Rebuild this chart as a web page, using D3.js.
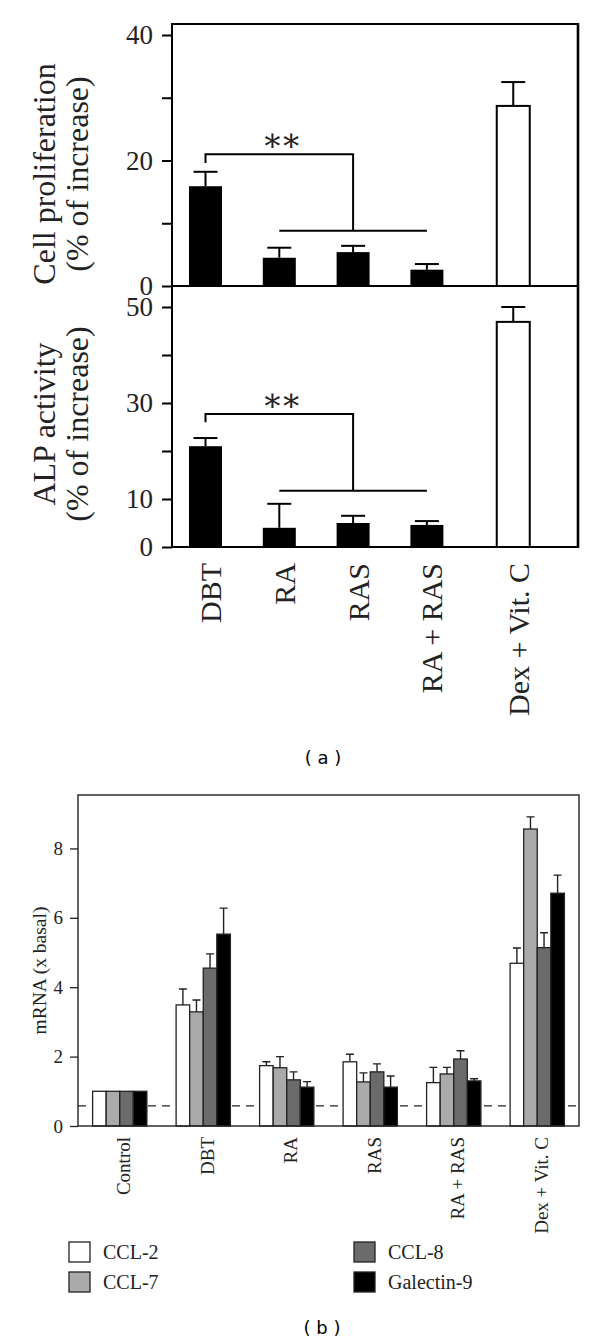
<!DOCTYPE html>
<html>
<head>
<meta charset="utf-8">
<script src="https://cdn.jsdelivr.net/npm/d3@7.9.0/dist/d3.min.js"></script>
<style>
  body { margin: 0; background: #fff; }
  svg { display: block; }
</style>
</head>
<body>
<svg></svg>
<script>
const width = 600;
const height = 1344;
const serif = "'Liberation Serif', 'Times New Roman', serif";

// ---- panel (a) data
const treatA = ["DBT", "RA", "RAS", "RA + RAS", "Dex + Vit. C"];
const prolifMean = [15.9, 4.5, 5.4, 2.6, 28.7];
const prolifSD = [2.3, 1.6, 1.0, 0.9, 3.8];
const alpMean = [21.0, 4.0, 5.0, 4.6, 46.9];
const alpSD = [1.7, 5.0, 1.5, 0.8, 3.1];
const prolifTicks = [0, 10, 20, 30, 40];
const prolifLabels = [0, 20, 40];
const alpTicks = [0, 10, 20, 30, 40, 50];
const alpLabels = [0, 10, 30, 50];
// significance brackets: [upper line, DBT tick end, lower line]
const prolifBracket = [21.0, 19.6, 8.8];
const alpBracket = [27.7, 26.0, 11.7];

// ---- panel (b) data
const treatB = ["Control", "DBT", "RA", "RAS", "RA + RAS", "Dex + Vit. C"];
const genes = ["CCL-2", "CCL-7", "CCL-8", "Galectin-9"];
const geneColors = ["#ffffff", "#aaaaaa", "#6b6b6b", "#000000"];
const ccl2 = [1.0, 3.49, 1.74, 1.85, 1.25, 4.69];
const ccl2SD = [0, 0.46, 0.11, 0.22, 0.44, 0.44];
const ccl7 = [1.0, 3.29, 1.68, 1.27, 1.50, 8.56];
const ccl7SD = [0, 0.34, 0.32, 0.26, 0.19, 0.35];
const ccl8 = [1.0, 4.55, 1.33, 1.56, 1.93, 5.14];
const ccl8SD = [0, 0.41, 0.23, 0.23, 0.24, 0.43];
const gal9 = [1.0, 5.53, 1.12, 1.12, 1.30, 6.71];
const gal9SD = [0, 0.75, 0.16, 0.32, 0.06, 0.52];
const basalLine = 0.58;
const mrnaTicks = [0, 2, 4, 6, 8];

const svg = d3.select("svg")
  .attr("width", width)
  .attr("height", height)
  .style("background", "#fff");

// ================= panel (a) =================
const aLeft = 172, aRight = 578, aTop = 24, aMid = 286, aBot = 547;

// Dex + Vit. C sits a little apart from the others
const xStep = d3.scaleLinear().domain([0, 1]).range([205.5, 279.3]);
const xA = i => xStep(i === 4 ? 4.17 : i);
const barW = 33;

function panelA(g, cfg) {
  const y = d3.scaleLinear().domain(cfg.domain).range(cfg.range);

  // axis
  const axis = d3.axisLeft(y)
    .tickValues(cfg.ticks)
    .tickSize(10)
    .tickPadding(9)
    .tickFormat(d => cfg.labels.includes(d) ? d : "");
  const ax = g.append("g")
    .attr("transform", `translate(${aLeft},0)`)
    .call(axis);
  ax.select(".domain").remove();
  ax.selectAll(".tick line").attr("stroke", "#000").attr("stroke-width", 2);
  ax.selectAll(".tick text")
    .attr("fill", "#222")
    .style("font-family", serif)
    .style("font-size", "27px");

  // error bars
  const eb = g.append("g").attr("stroke", "#000").attr("stroke-width", 2);
  eb.selectAll("line.v")
    .data(cfg.mean)
    .join("line")
    .attr("class", "v")
    .attr("x1", (d, i) => xA(i)).attr("x2", (d, i) => xA(i))
    .attr("y1", d => y(d))
    .attr("y2", (d, i) => y(d + cfg.sd[i]));
  eb.selectAll("line.c")
    .data(cfg.mean)
    .join("line")
    .attr("class", "c")
    .attr("x1", (d, i) => xA(i) - 12).attr("x2", (d, i) => xA(i) + 12)
    .attr("y1", (d, i) => y(d + cfg.sd[i]))
    .attr("y2", (d, i) => y(d + cfg.sd[i]));

  // bars
  g.append("g")
    .selectAll("rect")
    .data(cfg.mean)
    .join("rect")
    .attr("x", (d, i) => xA(i) - barW / 2)
    .attr("width", barW)
    .attr("y", d => y(d))
    .attr("height", d => y(0) - y(d))
    .attr("fill", (d, i) => i === 4 ? "#fff" : "#000")
    .attr("stroke", "#000")
    .attr("stroke-width", (d, i) => i === 4 ? 2 : 0);

  // bracket
  const [hi, hiTick, lo] = cfg.bracket;
  const br = g.append("g").attr("stroke", "#000").attr("stroke-width", 2).attr("fill", "none");
  br.append("path")
    .attr("d", `M${xA(0)},${y(hiTick)}V${y(hi)}H${xA(2)}V${y(lo)}`);
  br.append("line")
    .attr("x1", xA(1)).attr("x2", xA(3))
    .attr("y1", y(lo)).attr("y2", y(lo));
  g.append("text")
    .attr("x", (xA(0) + xA(2)) / 2 + 1)
    .attr("y", y(hi) - 3)
    .attr("text-anchor", "middle")
    .attr("letter-spacing", "-3px")
    .style("font-family", "'DejaVu Serif', serif")
    .style("font-size", "32px")
    .attr("fill", "#222")
    .text("∗∗");

  // y title, two lines
  cfg.title.forEach((t, k) => {
    g.append("text")
      .attr("transform", `translate(${[55, 88][k]},${cfg.titleY}) rotate(-90)`)
      .attr("text-anchor", "middle")
      .style("font-family", serif)
      .style("font-size", "32px")
      .attr("fill", "#222")
      .text(t);
  });
}

const gA = svg.append("g");
panelA(gA, {
  domain: [0, 40], range: [aMid, 35],
  ticks: prolifTicks, labels: prolifLabels,
  mean: prolifMean, sd: prolifSD, bracket: prolifBracket,
  title: ["Cell proliferation", "(% of increase)"], titleY: 174
});
panelA(gA, {
  domain: [0, 50], range: [aBot, 307],
  ticks: alpTicks, labels: alpLabels,
  mean: alpMean, sd: alpSD, bracket: alpBracket,
  title: ["ALP activity", "(% of increase)"], titleY: 424
});

// frames of (a)
const fr = gA.append("g").attr("stroke", "#000").attr("fill", "none");
fr.append("path").attr("stroke-width", 2)
  .attr("d", `M${aLeft},${aBot}V${aTop}H${aRight}`);
fr.append("line").attr("stroke-width", 2)
  .attr("x1", aLeft).attr("x2", aRight).attr("y1", aMid).attr("y2", aMid);
fr.append("line").attr("stroke-width", 2)
  .attr("x1", aLeft - 1).attr("x2", aRight + 1).attr("y1", aBot).attr("y2", aBot);
fr.append("line").attr("stroke-width", 2.6)
  .attr("x1", aRight).attr("x2", aRight).attr("y1", aTop - 1).attr("y2", aBot + 1);

// x labels of (a)
gA.append("g")
  .selectAll("text")
  .data(treatA)
  .join("text")
  .attr("transform", (d, i) => `translate(${xA(i) + 5},563) rotate(-90)`)
  .attr("text-anchor", "end")
  .attr("dy", "0.35em")
  .style("font-family", serif)
  .style("font-size", "30px")
  .attr("fill", "#222")
  .text(d => d);

svg.append("text")
  .attr("x", 323).attr("y", 764)
  .attr("text-anchor", "middle")
  .style("font-family", "'DejaVu Sans', sans-serif")
  .style("font-size", "18px")
  .attr("fill", "#000")
  .text("( a )");

// ================= panel (b) =================
const bLeft = 78, bRight = 579, bTop = 795, bBot = 1126;
const seriesB = [
  { gene: genes[0], mean: ccl2, sd: ccl2SD },
  { gene: genes[1], mean: ccl7, sd: ccl7SD },
  { gene: genes[2], mean: ccl8, sd: ccl8SD },
  { gene: genes[3], mean: gal9, sd: gal9SD }
];

const xB = d3.scaleBand()
  .domain(treatB)
  .range([bLeft, bRight])
  .paddingInner(0.35)
  .paddingOuter(0.175);
const xG = d3.scaleBand().domain(genes).range([0, xB.bandwidth()]);
const yB = d3.scaleLinear().domain([0, 9.54]).range([bBot, bTop]);
const color = d3.scaleOrdinal(genes, geneColors);

const gB = svg.append("g");

const axB = gB.append("g")
  .attr("transform", `translate(${bLeft},0)`)
  .call(d3.axisLeft(yB).tickValues(mrnaTicks).tickSize(8).tickPadding(7));
axB.select(".domain").remove();
axB.selectAll(".tick line").attr("stroke", "#222").attr("stroke-width", 1.3);
axB.selectAll(".tick text")
  .attr("fill", "#222")
  .style("font-family", serif)
  .style("font-size", "19px");

gB.append("text")
  .attr("transform", `translate(39,${(bTop + bBot) / 2 + 10}) rotate(-90)`)
  .attr("text-anchor", "middle")
  .attr("dy", "0.35em")
  .style("font-family", serif)
  .style("font-size", "19.5px")
  .attr("fill", "#222")
  .text("mRNA (x basal)");

// dashed basal line, behind bars
gB.append("line")
  .attr("x1", bLeft).attr("x2", bRight)
  .attr("y1", yB(basalLine)).attr("y2", yB(basalLine))
  .attr("stroke", "#222")
  .attr("stroke-width", 1.4)
  .attr("stroke-dasharray", "8,6");

const flat = [];
seriesB.forEach(s => s.mean.forEach((v, i) =>
  flat.push({ gene: s.gene, treat: treatB[i], value: v, sd: s.sd[i] })));

const ebB = gB.append("g").attr("stroke", "#222").attr("stroke-width", 1.4);
ebB.selectAll("path")
  .data(flat.filter(d => d.sd > 0))
  .join("path")
  .attr("d", d => {
    const cx = xB(d.treat) + xG(d.gene) + xG.bandwidth() / 2;
    const top = yB(d.value + d.sd);
    return `M${cx},${yB(d.value)}V${top}M${cx - 4},${top}H${cx + 4}`;
  })
  .attr("fill", "none");

gB.append("g")
  .selectAll("rect")
  .data(flat)
  .join("rect")
  .attr("x", d => xB(d.treat) + xG(d.gene))
  .attr("width", xG.bandwidth())
  .attr("y", d => yB(d.value))
  .attr("height", d => yB(0) - yB(d.value))
  .attr("fill", d => color(d.gene))
  .attr("stroke", "#222")
  .attr("stroke-width", 1.3);

gB.append("rect")
  .attr("x", bLeft).attr("y", bTop)
  .attr("width", bRight - bLeft).attr("height", bBot - bTop)
  .attr("fill", "none")
  .attr("stroke", "#222")
  .attr("stroke-width", 1.4);

gB.append("g")
  .selectAll("text")
  .data(treatB)
  .join("text")
  .attr("transform", d => `translate(${xB(d) + xB.bandwidth() / 2 + 3},1137) rotate(-90)`)
  .attr("text-anchor", "end")
  .attr("dy", "0.4em")
  .style("font-family", serif)
  .style("font-size", "19px")
  .attr("fill", "#222")
  .text(d => d);

// legend
const legend = gB.append("g")
  .selectAll("g")
  .data(genes)
  .join("g")
  .attr("transform", (d, i) => `translate(${i < 2 ? 69 : 354},${1242 + (i % 2) * 30})`);
legend.append("rect")
  .attr("width", 21).attr("height", 20)
  .attr("fill", d => color(d))
  .attr("stroke", "#222")
  .attr("stroke-width", 1.3);
legend.append("text")
  .attr("x", 34).attr("y", 10)
  .attr("dy", "0.35em")
  .style("font-family", serif)
  .style("font-size", "20px")
  .attr("fill", "#222")
  .text(d => d);

svg.append("text")
  .attr("x", 322).attr("y", 1334)
  .attr("text-anchor", "middle")
  .style("font-family", "'DejaVu Sans', sans-serif")
  .style("font-size", "18px")
  .attr("fill", "#000")
  .text("( b )");
</script>
</body>
</html>
